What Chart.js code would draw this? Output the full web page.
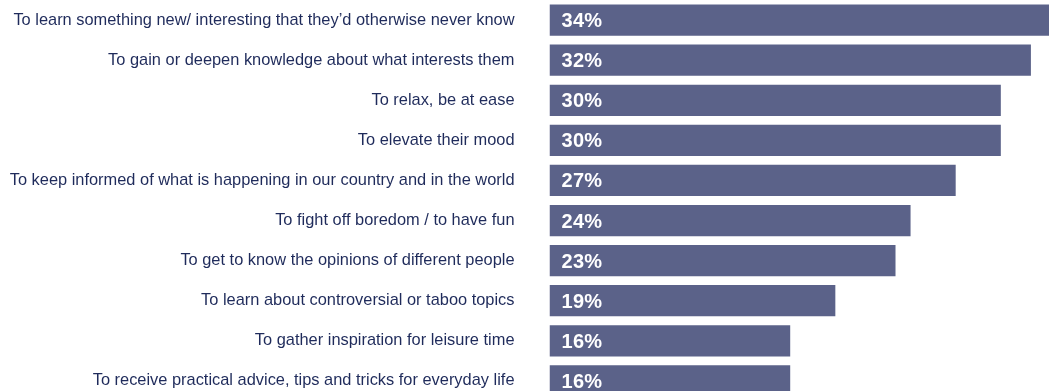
<!DOCTYPE html>
<html>
<head>
<meta charset="utf-8">
<script src="https://cdn.jsdelivr.net/npm/chart.js@4"></script>
<style>
  html, body { margin: 0; padding: 0; background: #fff; overflow: hidden; }
  #wrap { width: 1061px; height: 401px; }
</style>
</head>
<body>
<div id="wrap"><canvas id="reasons" width="1061" height="401"></canvas></div>
<script>
const reasons = [
    'To learn something new/ interesting that they\u2019d otherwise never know',
    'To gain or deepen knowledge about what interests them',
    'To relax, be at ease',
    'To elevate their mood',
    'To keep informed of what is happening in our country and in the world',
    'To fight off boredom / to have fun',
    'To get to know the opinions of different people',
    'To learn about controversial or taboo topics',
    'To gather inspiration for leisure time',
    'To receive practical advice, tips and tricks for everyday life'
];
const shares = [34, 32, 30, 30, 27, 24, 23, 19, 16, 16];

const barColor = '#5b6289';
const textColor = '#1f2b5b';

// white percentage inside each bar
const percentLabels = {
    id: 'percentLabels',
    afterDatasetsDraw(chart) {
        const ctx = chart.ctx;
        const meta = chart.getDatasetMeta(0);
        ctx.save();
        ctx.fillStyle = '#ffffff';
        ctx.font = 'bold 20px "Liberation Sans", Arial, sans-serif';
        ctx.letterSpacing = '0.3px';
        ctx.textAlign = 'left';
        ctx.textBaseline = 'middle';
        meta.data.forEach((bar, i) => {
            ctx.fillText(shares[i] + '%', bar.base + 12, bar.y + 1.5);
        });
        ctx.restore();
    }
};

new Chart(document.getElementById('reasons'), {
    type: 'bar',
    data: {
        labels: reasons,
        datasets: [{
            data: shares,
            backgroundColor: barColor,
            borderWidth: 0,
            barPercentage: 0.78,
            categoryPercentage: 1
        }]
    },
    options: {
        indexAxis: 'y',
        responsive: false,
        animation: false,
        layout: { padding: 0 },
        plugins: {
            legend: { display: false },
            tooltip: { enabled: false }
        },
        scales: {
            x: {
                display: false,
                min: 0,
                max: 34
            },
            y: {
                // invisible tick marks give the gap between labels and bars
                grid: {
                    drawOnChartArea: false,
                    drawTicks: true,
                    tickLength: 35,
                    color: 'rgba(0,0,0,0)'
                },
                border: { display: false },
                ticks: {
                    color: textColor,
                    padding: 0,
                    // tiny line height so the labels add no top/bottom padding
                    font: { family: '"Liberation Sans", Arial, sans-serif', size: 16.4, lineHeight: 0.01 }
                },
                afterFit(scale) {
                    scale.width = 549.5;
                }
            }
        }
    },
    plugins: [percentLabels]
});
</script>
</body>
</html>
